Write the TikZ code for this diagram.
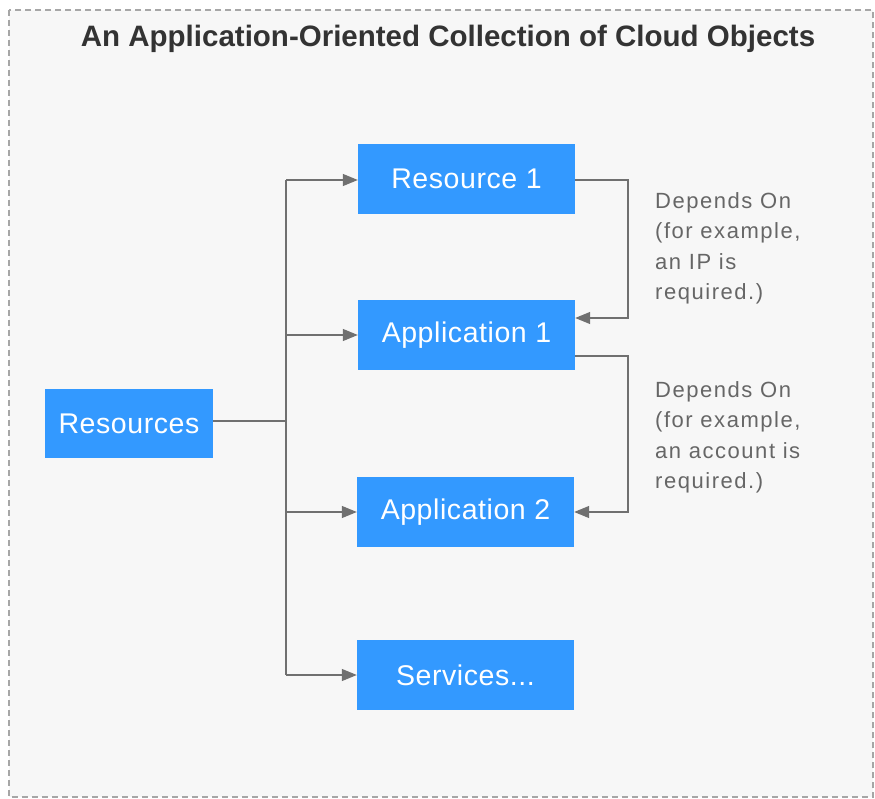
\documentclass[tikz,border=0pt]{standalone}
\usepackage{fontspec}
\setmainfont{Liberation Sans}
\usetikzlibrary{arrows.meta}
\definecolor{boxblue}{HTML}{3399FF}
\definecolor{linegray}{HTML}{707070}
\definecolor{txtgray}{HTML}{666666}
\definecolor{bggray}{HTML}{F7F7F7}
\begin{document}
\begin{tikzpicture}[x=1pt,y=-1pt,
  bluebox/.style={fill=boxblue,text=white,minimum width=217pt,minimum height=70pt,inner sep=0pt,
    font=\fontsize{28.5}{30}\selectfont\addfontfeatures{LetterSpace=2}},
  conn/.style={draw=linegray,line width=1.3pt,-{Triangle[length=15pt,width=12pt]}},
  plain/.style={draw=linegray,line width=1.3pt},
  note/.style={text=txtgray,align=left,anchor=north west,inner sep=0pt,
    font=\fontsize{22}{30.5}\selectfont\addfontfeatures{LetterSpace=7}}]
\useasboundingbox (0,0) rectangle (875,799);
\draw[fill=bggray,draw=gray!70,dashed,dash pattern=on 6pt off 4pt,line width=1.2pt] (9,10) rectangle (873,797);
\node[text=black!80,font=\fontsize{29.5}{32}\selectfont\bfseries] (title) at (448,39) {An Application-Oriented Collection of Cloud Objects};
\node[bluebox] (r1) at (466.5,179) {Resource 1};
\node[bluebox] (a1) at (466.5,335) {Application 1};
\node[bluebox,minimum width=168pt,minimum height=69pt] (res) at (129,423.5) {Resources};
\node[bluebox] (a2) at (465.5,512) {Application 2};
\node[bluebox] (sv) at (465.5,675) {Services...};
\coordinate (j) at (286,421);
\draw[plain] (res.east |- j) -- (j);
\draw[plain] (286,180) -- (286,675);
\draw[conn] (286,180) -- (r1.west |- 0,180);
\draw[conn] (286,335) -- (a1.west);
\draw[conn] (286,512) -- (a2.west);
\draw[conn] (286,675) -- (sv.west);
\draw[conn] (r1.east |- 0,180) -- (628,180) -- (628,318) -- (a1.east |- 0,318);
\draw[conn] (a1.east |- 0,356) -- (628,356) -- (628,512) -- (a2.east);
\node[note] (n1) at (655,192) {Depends On\\(for example,\\an IP is\\required.)};
\node[note] (n2) at (655,381) {Depends On\\(for example,\\an account is\\required.)};
\end{tikzpicture}
\end{document}
